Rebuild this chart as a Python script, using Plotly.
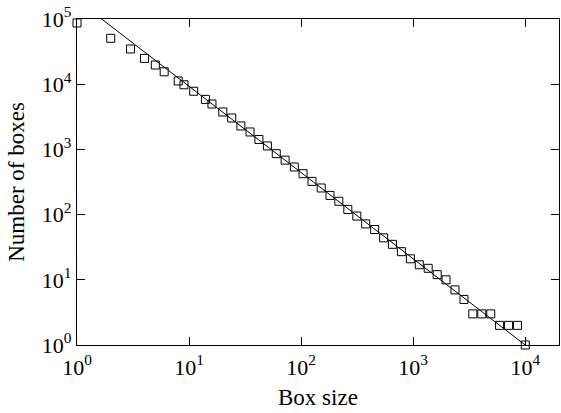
import numpy as np
import plotly.graph_objects as go

# Data (box-counting)
box_size = [1, 2, 3, 4, 5, 6, 8, 9, 11, 14, 16, 20, 24, 29, 35, 42, 50, 60, 72, 87,
            104, 125, 151, 181, 217, 261, 314, 377, 453, 545, 653, 785, 944, 1133,
            1361, 1637, 1963, 2360, 2838, 3404, 4093, 4920, 5902, 7096, 8531, 10000]
num_boxes = [87000, 50600, 34700, 24900, 19700, 15500, 11200, 9800, 7800, 5850, 4970,
             3750, 3030, 2290, 1850, 1420, 1130, 860, 684, 537, 424, 323, 256, 197,
             160, 120, 95, 72, 59, 44, 35, 27, 21, 17, 15, 12, 10, 7, 5, 3, 3, 3,
             2, 2, 2, 1]

# Fitted power law: N = 10**fit_intercept * s**(-fit_slope)
fit_slope = 1.323
fit_intercept = 5.291
fit_range = [1, 10000]

x_title = "Box size"
y_title = "Number of boxes"
tick_vals_x = [1, 10, 100, 1000, 10000]
tick_text_x = ["10<sup>0</sup>", "10<sup>1</sup>", "10<sup>2</sup>", "10<sup>3</sup>", "10<sup>4</sup>"]
tick_vals_y = [1, 10, 100, 1000, 10000, 100000]
tick_text_y = ["10<sup>0</sup>", "10<sup>1</sup>", "10<sup>2</sup>", "10<sup>3</sup>",
               "10<sup>4</sup>", "10<sup>5</sup>"]

fit_x = np.array(fit_range, dtype=float)
fit_y = 10 ** fit_intercept * fit_x ** (-fit_slope)

fig = go.Figure()
fig.add_trace(go.Scatter(x=fit_x, y=fit_y, mode="lines",
                         line=dict(color="black", width=1), showlegend=False))
fig.add_trace(go.Scatter(x=box_size, y=num_boxes, mode="markers", cliponaxis=False,
                         marker=dict(symbol="square-open", size=8, color="black",
                                     line=dict(width=1, color="black")),
                         showlegend=False))

font_family = "Liberation Serif"
axis_common = dict(type="log", showgrid=False, zeroline=False, showline=True,
                   linecolor="black", linewidth=1.3, mirror="ticks", ticks="inside",
                   ticklen=8, tickwidth=1, tickcolor="black", automargin=False,
                   tickfont=dict(family=font_family, size=22, color="black"))

fig.update_xaxes(range=[0, np.log10(20000)], tickvals=tick_vals_x, ticktext=tick_text_x,
                 ticklabelstandoff=2, **axis_common)
fig.update_yaxes(range=[0, 5], tickvals=tick_vals_y, ticktext=tick_text_y,
                 **axis_common)

title_font = dict(family=font_family, size=23, color="black")
fig.add_annotation(text=x_title, xref="paper", yref="paper", x=0.5, y=-0.16,
                   xanchor="center", yanchor="middle", showarrow=False, font=title_font)
fig.add_annotation(text=y_title, xref="paper", yref="paper", x=-0.127, y=0.5,
                   xanchor="center", yanchor="middle", textangle=-90, showarrow=False,
                   font=title_font)

fig.update_layout(width=561, height=413, margin=dict(l=77, r=2, t=19, b=68),
                  plot_bgcolor="white", paper_bgcolor="white",
                  font=dict(family=font_family, color="black"))

fig.write_html("out.html", config={"displayModeBar": False},
               post_script="document.body.style.margin='0';document.body.style.overflow='hidden';")
